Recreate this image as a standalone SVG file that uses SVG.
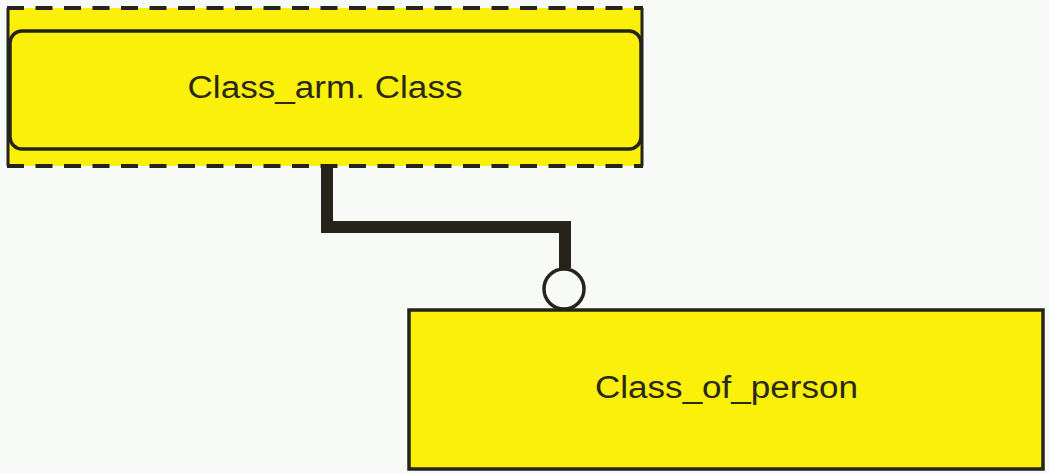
<svg xmlns="http://www.w3.org/2000/svg" width="1049" height="473" viewBox="0 0 1049 473">
<style>
.fill{fill:#faf00a}
.edge{stroke:#26241a;fill:none}
.lbl{font-family:"Liberation Sans",Arial,sans-serif;font-size:31px;fill:#2a2818;text-anchor:middle}
</style>
<rect width="1049" height="473" fill="#f8faf8"/>
<g id="connectors">
<path d="M327,166 V227 H565 V268" class="edge" stroke-width="12" stroke-linejoin="miter"/>
<circle cx="564" cy="289" r="20" fill="#f8faf8" stroke="#26241a" stroke-width="3.5"/>
</g>
<g id="node-class-arm">
<rect x="7" y="8" width="636" height="158" class="fill"/>
<line x1="7" y1="8" x2="643" y2="8" class="edge" stroke-width="4" stroke-dasharray="17 11.5"/>
<line x1="7" y1="166" x2="643" y2="166" class="edge" stroke-width="4" stroke-dasharray="17 11.5"/>
<line x1="8" y1="8" x2="8" y2="166" class="edge" stroke-width="3"/>
<line x1="642" y1="8" x2="642" y2="166" class="edge" stroke-width="3"/>
<rect x="10" y="31" width="631" height="118" rx="12" class="fill edge" stroke-width="3.5" style="fill:#faf00a"/>
<text x="325" y="98" class="lbl" textLength="275" lengthAdjust="spacingAndGlyphs">Class_arm. Class</text>
</g>
<g id="node-class-of-person">
<rect x="409" y="310" width="634" height="159" class="edge" stroke-width="3.5" style="fill:#faf00a"/>
<text x="726.5" y="398" class="lbl" textLength="263" lengthAdjust="spacingAndGlyphs">Class_of_person</text>
</g>
</svg>
